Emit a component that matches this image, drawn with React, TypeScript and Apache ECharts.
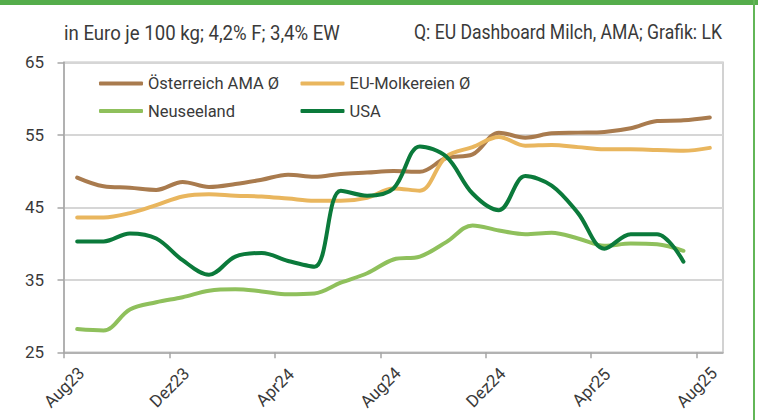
import React, { useEffect, useRef } from "react";
import * as echarts from "echarts";

const months = [
  "Aug23", "Sep23", "Okt23", "Nov23", "Dez23", "Jan24", "Feb24", "Mär24", "Apr24",
  "Mai24", "Jun24", "Jul24", "Aug24", "Sep24", "Okt24", "Nov24", "Dez24", "Jan25",
  "Feb25", "Mär25", "Apr25", "Mai25", "Jun25", "Jul25", "Aug25",
];
const tickMonths = [0, 4, 8, 12, 16, 20, 24];

const oesterreich = [49.1, 47.9, 47.7, 47.4, 48.5, 47.8, 48.2, 48.8, 49.5, 49.2, 49.6, 49.8, 50.0, 49.9, 51.8, 52.3, 55.3, 54.6, 55.2, 55.3, 55.4, 55.9, 56.9, 57.0, 57.4];
const euMolkereien = [43.6, 43.6, 44.2, 45.3, 46.5, 46.8, 46.6, 46.5, 46.2, 45.9, 45.9, 46.3, 47.6, 47.3, 52.0, 53.3, 54.7, 53.5, 53.6, 53.3, 53.0, 53.0, 52.9, 52.8, 53.2];
const neuseeland = [28.2, 28.0, 30.9, 31.9, 32.6, 33.5, 33.7, 33.4, 33.0, 33.1, 34.6, 35.9, 37.8, 38.2, 40.2, 42.5, 41.8, 41.3, 41.5, 40.7, 39.7, 40.0, 39.9, 39.0];
const usa = [40.3, 40.3, 41.4, 40.7, 37.7, 35.7, 38.2, 38.7, 37.6, 36.8, 47.3, 46.6, 47.6, 53.4, 52.0, 46.9, 44.6, 49.3, 48.0, 44.2, 39.3, 41.3, 41.3, 37.5];

const seriesNames = ["Österreich AMA Ø", "EU-Molkereien Ø", "Neuseeland", "USA"];
const seriesColors = ["#a97b4e", "#e9b65e", "#8fc05c", "#0b7a3b"];
const seriesData = [oesterreich, euMolkereien, neuseeland, usa];

const FONT = "Roboto, 'Liberation Sans', sans-serif";
const TEXT = "#3a3a3a";

export default function App() {
  const ref = useRef<HTMLDivElement>(null);
  useEffect(() => {
    if (!ref.current) return;
    const chart = echarts.init(ref.current, null, { renderer: "svg" });
    const legendBase = {
      orient: "vertical",
      top: 75,
      padding: 0,
      itemWidth: 44,
      itemHeight: 4,
      itemGap: 10.5,
      icon: "roundRect",
      selectedMode: false,
      textStyle: { fontFamily: FONT, fontSize: 16.5, color: TEXT },
    };
    chart.setOption({
      animation: false,
      backgroundColor: "#ffffff",
      textStyle: { fontFamily: FONT },
      grid: {
        left: 64,
        right: 35,
        top: 62.3,
        bottom: 67.7,
        show: true,
        borderColor: "#c4c4c4",
        borderWidth: 1.5,
        containLabel: false,
        outerBoundsMode: "none",
      },
      legend: [
        { ...legendBase, left: 99, data: [seriesNames[0], seriesNames[2]] },
        { ...legendBase, left: 300.5, data: [seriesNames[1], seriesNames[3]] },
      ],
      xAxis: {
        type: "value",
        min: 0,
        max: 25,
        splitLine: { show: false },
        axisLine: { show: true, lineStyle: { color: "#a6a6a6", width: 1.5 } },
        axisTick: {
          show: true,
          length: 6,
          customValues: tickMonths,
          lineStyle: { color: "#a6a6a6", width: 1.5 },
        },
        axisLabel: {
          customValues: tickMonths,
          formatter: (v: number) => months[Math.round(v)] ?? "",
          rotate: 45,
          align: "center",
          verticalAlign: "middle",
          margin: 35,
          fontFamily: FONT,
          fontSize: 17,
          color: TEXT,
        },
      },
      yAxis: {
        type: "value",
        min: 25,
        max: 65,
        interval: 10,
        axisLine: { show: true, lineStyle: { color: "#a6a6a6", width: 1.5 } },
        axisTick: { show: true, length: 6.5, lineStyle: { color: "#a6a6a6", width: 1.5 } },
        splitLine: { show: true, lineStyle: { color: "#d6d6d6", width: 2 } },
        axisLabel: { margin: 20, fontFamily: FONT, fontSize: 17, color: TEXT },
      },
      series: seriesNames.map((name, i) => ({
        name,
        type: "line",
        smooth: 0.35,
        symbol: "none",
        color: seriesColors[i],
        lineStyle: { width: 4, color: seriesColors[i], cap: "round", join: "round" },
        data: seriesData[i].map((v, m) => [m + 0.5, v]),
      })),
      graphic: [
        { type: "rect", left: 0, top: 0, shape: { width: 758, height: 5 }, style: { fill: "#55ad4b" } },
        { type: "rect", left: 753, top: 0, shape: { width: 2, height: 420 }, style: { fill: "#62b657" } },
        {
          type: "text",
          x: 64,
          y: 33,
          scaleX: 0.93,
          style: {
            text: "in Euro je 100 kg; 4,2% F; 3,4% EW",
            fontFamily: FONT,
            fontSize: 20,
            fill: TEXT,
            align: "left",
            verticalAlign: "middle",
          },
        },
        {
          type: "text",
          x: 722,
          y: 33,
          scaleX: 0.88,
          style: {
            text: "Q: EU Dashboard Milch, AMA; Grafik: LK",
            fontFamily: FONT,
            fontSize: 20,
            fill: TEXT,
            align: "right",
            verticalAlign: "middle",
          },
        },
      ],
    });
    return () => chart.dispose();
  }, []);
  return (
    <div
      ref={ref}
      style={{ position: "fixed", left: 0, top: 0, width: 758, height: 420, background: "#fff" }}
    />
  );
}
